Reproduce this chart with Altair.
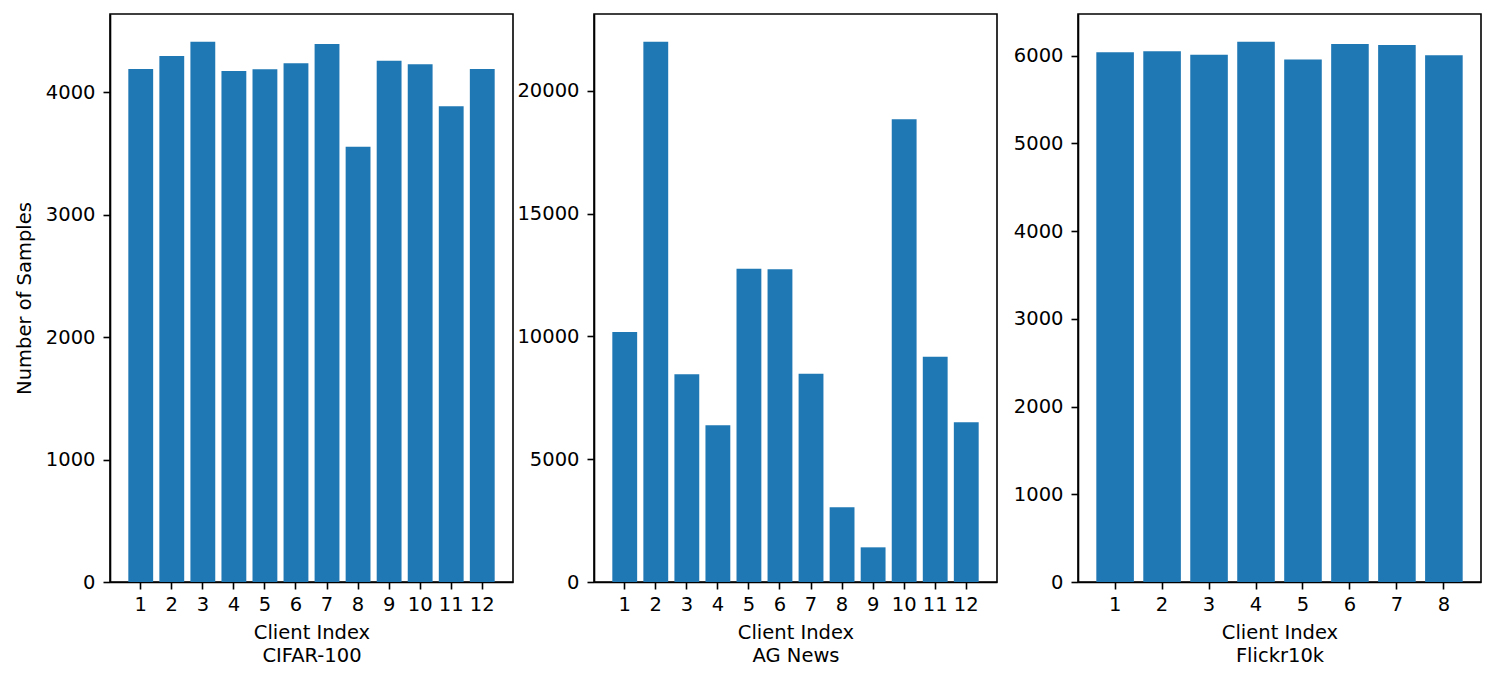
import altair as alt
import pandas as pd

cifar_clients = [str(i) for i in range(1, 13)]
cifar_values = [4188, 4294, 4411, 4171, 4185, 4234, 4392, 3554, 4256, 4226, 3883, 4188]

ag_clients = [str(i) for i in range(1, 13)]
ag_values = [10183, 22008, 8460, 6382, 12763, 12735, 8486, 3041, 1412, 18846, 9178, 6504]

flickr_clients = [str(i) for i in range(1, 9)]
flickr_values = [6038, 6049, 6011, 6160, 5955, 6133, 6122, 6004]

FONT = "DejaVu Sans"
BAR = "#1f77b4"


def panel(clients, values, name, ymax, ticks, ytitle, outer):
    df = pd.DataFrame({"client": clients, "value": values})
    if ytitle:
        y_axis = alt.Axis(values=ticks, format="d", grid=False, tickSize=7,
                          labelPadding=8, title=ytitle, titlePadding=11)
    else:
        y_axis = alt.Axis(values=ticks, format="d", grid=False, tickSize=7,
                          labelPadding=8, title=None)
    return alt.Chart(df).mark_bar(color=BAR).encode(
        x=alt.X("client:O", sort=clients,
                scale=alt.Scale(paddingInner=0.2, paddingOuter=outer),
                axis=alt.Axis(labelAngle=0, tickSize=7, labelPadding=6,
                              title=["Client Index", name], titlePadding=10,
                              titleLineHeight=23)),
        y=alt.Y("value:Q", scale=alt.Scale(domain=[0, ymax], nice=False, zero=True),
                axis=y_axis),
    ).properties(width=403, height=568)


p1 = panel(cifar_clients, cifar_values, "CIFAR-100", 4637,
           [0, 1000, 2000, 3000, 4000], "Number of Samples", 0.59)
p2 = panel(ag_clients, ag_values, "AG News", 23136,
           [0, 5000, 10000, 15000, 20000], None, 0.59)
p3 = panel(flickr_clients, flickr_values, "Flickr10k", 6475,
           [0, 1000, 2000, 3000, 4000, 5000, 6000], None, 0.39)

chart = alt.hconcat(p1, p2, p3, spacing=81, bounds="flush").configure_view(
    stroke="black", strokeWidth=1.6
).configure_axis(
    labelFont=FONT, titleFont=FONT, labelFontSize=19.5, titleFontSize=19.5,
    titleFontWeight="normal", labelColor="black", titleColor="black",
    domainColor="black", tickColor="black", domainWidth=1.6, tickWidth=1.6,
)

chart.save("out.html", embed_options={"renderer": "svg", "actions": False})
